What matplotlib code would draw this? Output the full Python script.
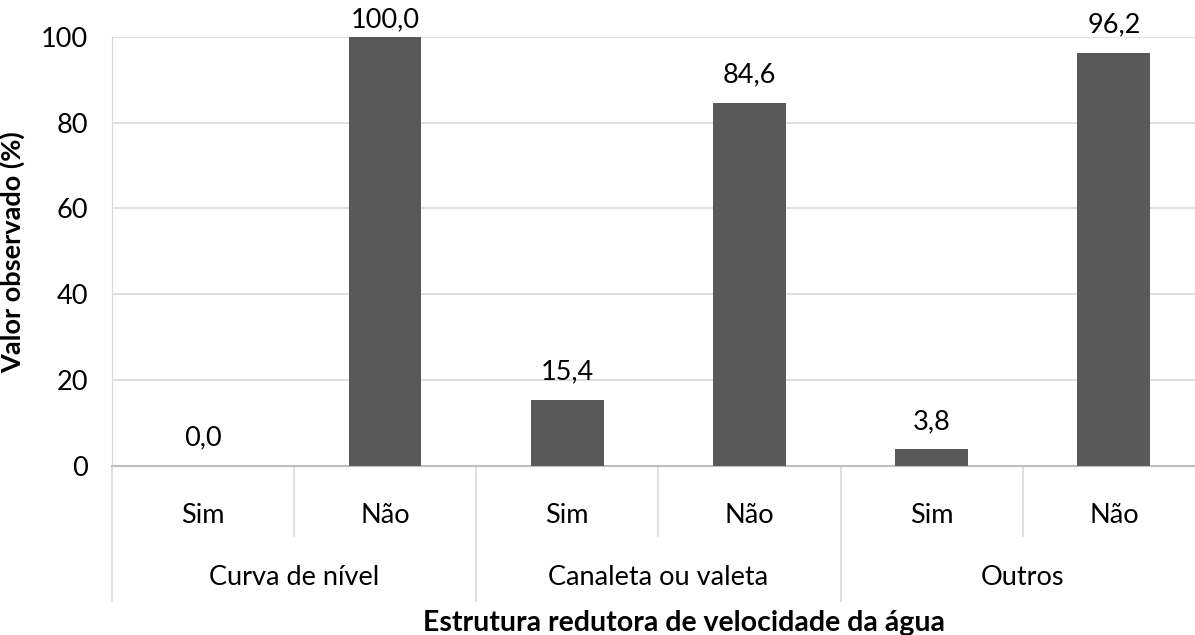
import matplotlib
matplotlib.use("Agg")
import matplotlib.pyplot as plt
from matplotlib.transforms import blended_transform_factory

groups = ["Curva de nível", "Canaleta ou valeta", "Outros"]
subs = ["Sim", "Não"]
values = [0.0, 100.0, 15.4, 84.6, 3.8, 96.2]
yticks = [0, 20, 40, 60, 80, 100]

plt.rcParams['font.family'] = ['Lato', 'DejaVu Sans']
FS = 19.5
W, H = 1195, 635
fig = plt.figure(figsize=(W / 100, H / 100), dpi=100)
left_px, right_px, top_px, bot_px = 111.7, 1205.0, 37.0, 465.7
ax = fig.add_axes([left_px / W, (H - bot_px) / H, (right_px - left_px) / W, (bot_px - top_px) / H])
axh = bot_px - top_px

n = len(values)
x = list(range(n))
ax.bar(x, values, width=0.4, color="#595959", zorder=3)
for xi, v in zip(x, values):
    bar_top_px = top_px + (100 - v) / 100 * axh
    off_px = min(28, bar_top_px - 20)
    ax.annotate(f"{v:.1f}".replace(".", ","), (xi, v), xytext=(0, off_px * 0.72), textcoords="offset points",
                ha="center", va="center", fontsize=FS, color="black", annotation_clip=False)

ax.set_xlim(-0.5, n - 0.5)
ax.set_ylim(0, 100)
ax.set_yticks(yticks)
ax.set_yticklabels([str(t) for t in yticks], fontsize=FS)
ax.tick_params(axis="y", length=0, pad=17)
ax.tick_params(axis="x", length=0, labelbottom=False)
ax.yaxis.grid(True, color="#d9d9d9", linewidth=1.2, zorder=0)
for s in ["top", "right"]:
    ax.spines[s].set_visible(False)
ax.spines["left"].set_color("#d9d9d9")
ax.spines["bottom"].set_color("#bfbfbf")
ax.spines["bottom"].set_linewidth(1.5)

tr = blended_transform_factory(ax.transData, ax.transAxes)
def fy(px):
    return -px / axh

for i in range(n):
    ax.text(i, fy(50), subs[i % 2], transform=tr, ha="center", va="center", fontsize=FS)
for g, name in enumerate(groups):
    ax.text(2 * g + 0.5, fy(112), name, transform=tr, ha="center", va="center", fontsize=FS)
for i in range(n + 1):
    xb = i - 0.5
    depth = 135 if i % 2 == 0 else 70
    ax.plot([xb, xb], [0, fy(depth)], transform=tr, color="#d9d9d9", lw=1.2, clip_on=False)

ax.set_ylabel("Valor observado (%)", fontsize=FS, fontweight="bold")
ax.yaxis.set_label_coords((25 - left_px) / (right_px - left_px), (bot_px - 252) / axh)
fig.text(423 / W, 1 - 623 / H, "Estrutura redutora de velocidade da água",
         ha="left", va="center", fontsize=20.5, fontweight="bold")

fig.savefig("out.png", dpi=100)
